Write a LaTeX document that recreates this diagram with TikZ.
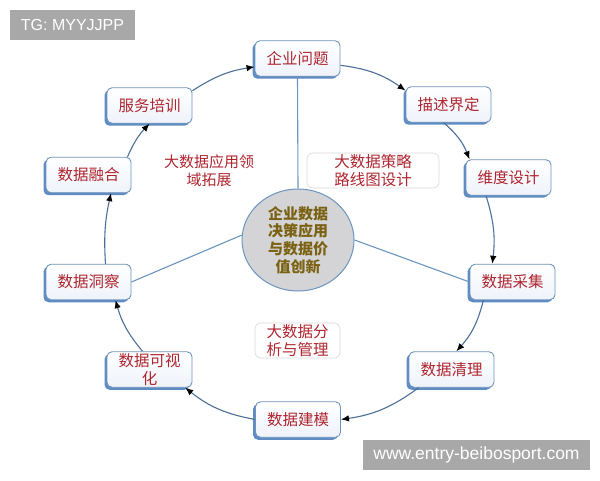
\documentclass[tikz,border=0pt]{standalone}
\usepackage{fontspec}
\newfontfamily\cjk{Noto Sans CJK SC}
\newfontfamily\wmfont{Liberation Sans}
\usetikzlibrary{shapes.geometric,shadows,arrows.meta}
\definecolor{nodeborder}{HTML}{7093BE}
\definecolor{nodeshadow}{HTML}{5E8CC3}
\definecolor{nodebottom}{HTML}{EEF3FA}
\definecolor{txtred}{HTML}{AE2630}
\definecolor{arrowline}{HTML}{4D7099}
\definecolor{spoke}{HTML}{6C95C2}
\definecolor{hubfill}{HTML}{D4D4D6}
\definecolor{hubtext}{HTML}{7A6212}
\definecolor{labelborder}{HTML}{DADADA}
\definecolor{wmgray}{HTML}{A8A8A8}
\begin{document}
\begin{tikzpicture}[x=1pt,y=1pt,
  stepbox/.style={draw=nodeborder, line width=0.9pt, rounded corners=5pt,
    top color=white, bottom color=nodebottom,
    minimum width=85pt, minimum height=35.5pt, inner sep=1pt,
    font=\cjk\fontsize{15.5}{17.5}\selectfont, text=txtred, align=center,
    general shadow={fill=nodeshadow, shadow xshift=-2.5pt, shadow yshift=-2.5pt}},
  arr/.style={draw=arrowline, line width=1.1pt, -{Latex[length=8pt,width=6.5pt,color=black]}},
  spokeline/.style={draw=spoke, line width=1.1pt},
  labelbox/.style={draw=labelborder, line width=0.6pt, rounded corners=6pt, fill=white,
    inner sep=1pt, font=\cjk\fontsize{15.5}{18}\selectfont, text=txtred, align=center},
  labeltext/.style={inner sep=1pt, font=\cjk\fontsize{15}{18}\selectfont, text=txtred, align=center},
  wm/.style={fill=wmgray, text=white, inner sep=0pt, font=\wmfont\fontsize{16}{18}\selectfont}
]
\useasboundingbox (0,0) rectangle (600,480);
\fill[white] (0,0) rectangle (600,480);

% hub
\node[ellipse, draw=spoke, line width=1pt, fill=hubfill, minimum width=112pt, minimum height=102pt,
  inner sep=0pt, font=\cjk\bfseries\fontsize{15}{17.7}\selectfont, text=hubtext, align=center]
  (hub) at (298,240) {企业数据\\决策应用\\与数据价\\值创新};

% cycle nodes
\node[stepbox] (q) at (297.5,421.5) {企业问题};
\node[stepbox] (b) at (448.5,375.5) {描述界定};
\node[stepbox] (w) at (508.5,302.5) {维度设计};
\node[stepbox] (c) at (512.5,198) {数据采集};
\node[stepbox] (l) at (451.5,110.5) {数据清理};
\node[stepbox] (m) at (298,60.5) {数据建模};
\node[stepbox] (v) at (149.5,110.5) {数据可视\\化};
\node[stepbox] (i) at (88.5,198) {数据洞察};
\node[stepbox] (f) at (88.5,305) {数据融合};
\node[stepbox] (s) at (149.5,374.5) {服务培训};

% spokes
\draw[spokeline] (q.south) -- (hub.north);
\draw[spokeline] (hub.175) -- (i.east);
\draw[spokeline] (hub.east) -- (c.west);

% labels
\node[labelbox, minimum width=132pt, minimum height=35pt] (lab1) at (373,309.5) {大数据策略\\路线图设计};
\node[labelbox, minimum width=85pt, minimum height=35pt] (lab2) at (297.5,139.5) {大数据分\\析与管理};
\node[labeltext] (lab3) at (209,309) {大数据应用领\\域拓展};

% cycle arrows
\draw[arr] (q.-9) to[bend left=14] (b.162);
\draw[arr] (b.-105) to[bend left=14] (w.155);
\draw[arr] (w.-141) to[bend left=12] (c.138);
\draw[arr] (c.-148) to[bend left=14] (l.75);
\draw[arr] (l.-151) to[bend left=14] (m.east);
\draw[arr] (m.west) to[bend left=14] (v.-27);
\draw[arr] (v.111) to[bend left=12] (i.-34);
\draw[arr] (i.47) to[bend left=8] (f.-39);
\draw[arr] (f.25) to[bend left=10] (s.south);
\draw[arr] (s.19) to[bend left=12] (q.191);

% watermarks
\node[wm, minimum width=125pt, minimum height=30pt] (tg) at (72.5,455) {TG: MYYJJPP};
\node[wm, minimum width=227pt, minimum height=30pt, font=\wmfont\fontsize{17.5}{19}\selectfont] (www) at (476.5,25) {www.entry-beibosport.com};
\end{tikzpicture}
\end{document}
